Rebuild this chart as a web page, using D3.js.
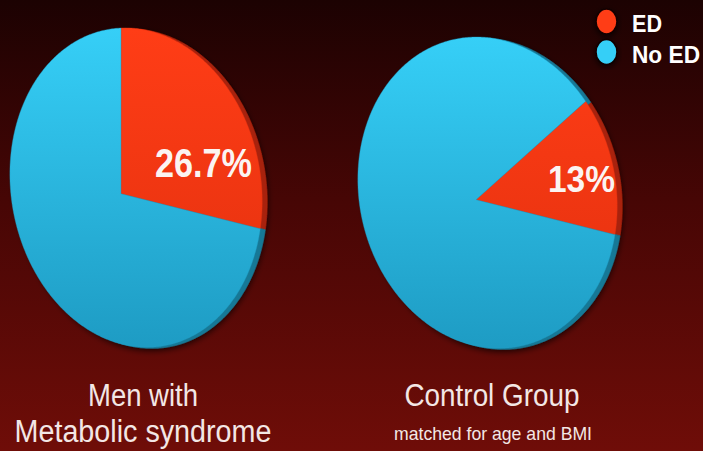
<!DOCTYPE html>
<html>
<head>
<meta charset="utf-8">
<script src="https://cdn.jsdelivr.net/npm/d3@7"></script>
<style>
  html, body { margin: 0; padding: 0; background: #1c0202; }
  svg { display: block; }
</style>
</head>
<body>
<svg id="chart" width="703" height="451"></svg>
<script>
// ---- data ----
const categories = ["ED", "No ED"];
const groups = ["Men with Metabolic syndrome", "Control Group"];
const edShare = [26.7, 13];        // % with erectile dysfunction
const noEdShare = [73.3, 87];      // % without
const valueLabels = ["26.7%", "13%"];
const titleLines = [["Men with", "Metabolic syndrome"], ["Control Group"]];
const subtitles = ["", "matched for age and BMI"];

// ---- layout ----
const W = 703, H = 451;
// each pie face is a unit disc seen in perspective: where its top, right,
// bottom and left rim points land on screen
const pieLayout = [
  { quad: [[121, 28], [262, 210], [121, 344], [10, 181]], start: 0,
    label: { x: 203.5, y: 177, size: 40.5, len: 97 },
    title: { x: 143, y: [406, 442], len: [110, 257] } },
  { quad: [[476, 37], [617, 215], [476, 346], [358, 187]], start: 50 * Math.PI / 180,
    label: { x: 581.5, y: 192, size: 37.5, len: 67 },
    title: { x: 492, y: [406], len: [175] },
    sub: { x: 493, y: 440, size: 19, len: 198 } }
];

const palette = {
  "ED":    { top: "#ff3d16", bottom: "#e2300e", side: "#a8230c" },
  "No ED": { top: "#36cff7", bottom: "#1e9cc4", side: "#167896" }
};

const svg = d3.select("#chart");
const defs = svg.append("defs");

// background: near-black at the top fading to deep red
const bg = defs.append("linearGradient").attr("id", "bg")
  .attr("x1", 0).attr("y1", 0).attr("x2", 0).attr("y2", 1);
bg.append("stop").attr("offset", 0).attr("stop-color", "#1c0202");
bg.append("stop").attr("offset", 0.45).attr("stop-color", "#470605");
bg.append("stop").attr("offset", 1).attr("stop-color", "#6f0d08");
svg.append("rect").attr("width", W).attr("height", H).attr("fill", "url(#bg)");

const shadow = defs.append("filter").attr("id", "shadow")
  .attr("x", "-20%").attr("y", "-20%").attr("width", "140%").attr("height", "140%");
shadow.append("feDropShadow").attr("dx", 0).attr("dy", 2)
  .attr("stdDeviation", 3).attr("flood-color", "#000").attr("flood-opacity", 0.75);

// solve the 3x3 projective map sending 4 source points to 4 target points
function homography(src, dst) {
  const A = [], b = [];
  src.forEach(([x, y], i) => {
    const [u, v] = dst[i];
    A.push([x, y, 1, 0, 0, 0, -u * x, -u * y]); b.push(u);
    A.push([0, 0, 0, x, y, 1, -v * x, -v * y]); b.push(v);
  });
  const n = 8;
  for (let c = 0; c < n; c++) {
    let p = c;
    for (let r = c + 1; r < n; r++) if (Math.abs(A[r][c]) > Math.abs(A[p][c])) p = r;
    [A[c], A[p]] = [A[p], A[c]]; [b[c], b[p]] = [b[p], b[c]];
    for (let r = 0; r < n; r++) {
      if (r === c) continue;
      const f = A[r][c] / A[c][c];
      for (let k = c; k < n; k++) A[r][k] -= f * A[c][k];
      b[r] -= f * b[c];
    }
  }
  const h = b.map((v, i) => v / A[i][i]);
  return ([x, y]) => {
    const w = h[6] * x + h[7] * y + 1;
    return [(h[0] * x + h[1] * y + h[2]) / w, (h[3] * x + h[4] * y + h[5]) / w];
  };
}

const unitQuad = [[0, -1], [1, 0], [0, 1], [-1, 0]];
const line = d3.line().curve(d3.curveLinearClosed);

function slicePoints(d, project) {
  const pts = [project([0, 0])];
  const steps = Math.max(8, Math.ceil((d.endAngle - d.startAngle) / 0.01));
  for (let i = 0; i <= steps; i++) {
    const a = d.startAngle + (d.endAngle - d.startAngle) * i / steps;
    pts.push(project([Math.sin(a), -Math.cos(a)]));
  }
  return pts;
}

groups.forEach((g, gi) => {
  const L = pieLayout[gi];
  const project = homography(unitQuad, L.quad);
  const values = [edShare[gi], noEdShare[gi]];
  const arcs = d3.pie().sort(null)
    .startAngle(L.start).endAngle(L.start + 2 * Math.PI)
    .value(d => d)(values)
    .map((d, i) => Object.assign(d, { cat: categories[i] }));

  const yTop = d3.min(L.quad, q => q[1]), yBot = d3.max(L.quad, q => q[1]);
  categories.forEach(c => {
    const lg = defs.append("linearGradient").attr("id", `g${gi}-${c.replace(/\s/g, "")}`)
      .attr("gradientUnits", "userSpaceOnUse")
      .attr("x1", 0).attr("y1", yTop).attr("x2", 0).attr("y2", yBot);
    lg.append("stop").attr("offset", 0).attr("stop-color", palette[c].top);
    lg.append("stop").attr("offset", 1).attr("stop-color", palette[c].bottom);
  });

  const pie = svg.append("g").attr("class", "pie");
  // side wall of the disc, peeking out on the right
  const side = pie.append("g").attr("filter", "url(#shadow)")
    .attr("transform", "translate(5,1)");
  side.selectAll("path").data(arcs).join("path")
    .attr("d", d => line(slicePoints(d, project)))
    .attr("fill", d => palette[d.cat].side)
    .attr("stroke", d => palette[d.cat].side).attr("stroke-width", 0.6);
  // top face
  pie.append("g").selectAll("path").data(arcs).join("path")
    .attr("d", d => line(slicePoints(d, project)))
    .attr("fill", d => `url(#g${gi}-${d.cat.replace(/\s/g, "")})`)
    .attr("stroke", d => palette[d.cat].bottom).attr("stroke-width", 0.4);

  // value label on the ED slice
  svg.append("text")
    .attr("x", L.label.x).attr("y", L.label.y)
    .attr("text-anchor", "middle")
    .attr("font-family", "'Liberation Sans', Arial, sans-serif")
    .attr("font-weight", "bold").attr("font-size", L.label.size)
    .attr("textLength", L.label.len).attr("lengthAdjust", "spacingAndGlyphs")
    .attr("fill", "#fbf4f2")
    .text(valueLabels[gi]);

  // group title under the pie
  titleLines[gi].forEach((t, li) => {
    svg.append("text")
      .attr("x", L.title.x).attr("y", L.title.y[li])
      .attr("text-anchor", "middle")
      .attr("font-family", "'Liberation Sans', Arial, sans-serif")
      .attr("font-size", 31)
      .attr("textLength", L.title.len[li]).attr("lengthAdjust", "spacingAndGlyphs")
      .attr("fill", "#f3e7e5")
      .text(t);
  });
  if (subtitles[gi]) {
    svg.append("text")
      .attr("x", L.sub.x).attr("y", L.sub.y)
      .attr("text-anchor", "middle")
      .attr("font-family", "'Liberation Sans', Arial, sans-serif")
      .attr("font-size", L.sub.size)
      .attr("textLength", L.sub.len).attr("lengthAdjust", "spacingAndGlyphs")
      .attr("fill", "#f3e7e5")
      .text(subtitles[gi]);
  }
});

// legend, top right
const legend = svg.append("g").attr("transform", "translate(606.5,21.5)");
const legendText = { "ED": 30, "No ED": 68 };
categories.forEach((c, i) => {
  const row = legend.append("g").attr("transform", `translate(0,${i * 30.5})`);
  row.append("ellipse").attr("rx", 10.5).attr("ry", 12.5)
    .attr("fill", palette[c].top).attr("stroke", "#120000").attr("stroke-width", 1.5)
    .attr("filter", "url(#shadow)");
  row.append("text").attr("x", 25.5).attr("y", 10.5)
    .attr("font-family", "'Liberation Sans', Arial, sans-serif")
    .attr("font-weight", "bold").attr("font-size", 24)
    .attr("textLength", legendText[c]).attr("lengthAdjust", "spacingAndGlyphs")
    .attr("fill", "#ffffff")
    .text(c);
});
</script>
</body>
</html>
